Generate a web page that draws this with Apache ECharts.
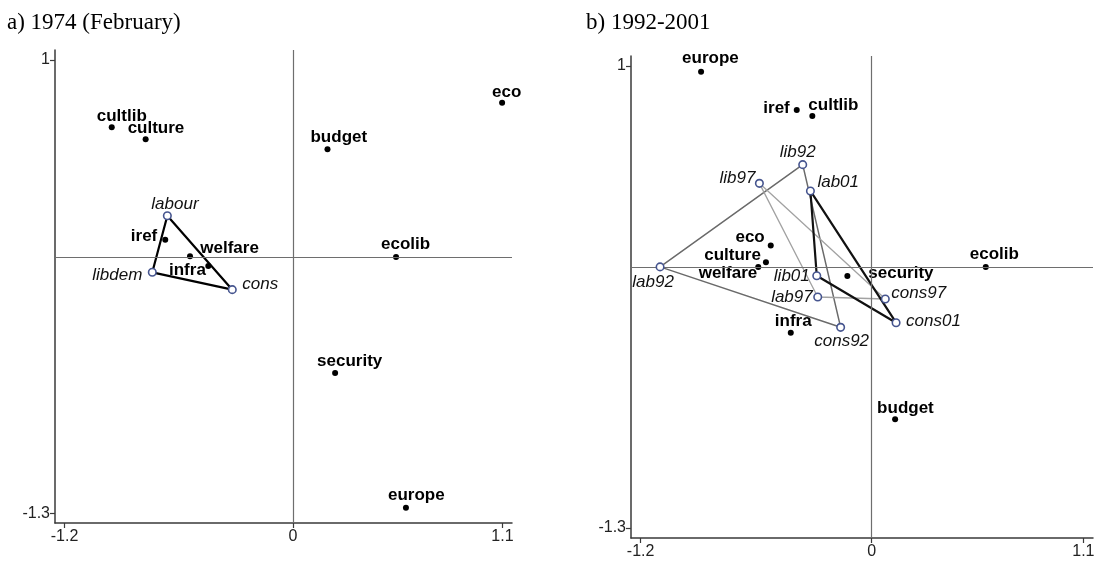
<!DOCTYPE html>
<html>
<head>
<meta charset="utf-8">
<script src="https://cdn.jsdelivr.net/npm/echarts@6/dist/echarts.min.js"></script>
<style>
  html, body { margin: 0; padding: 0; background: #fff; }
  #chart { width: 1099px; height: 561px; }
</style>
</head>
<body>
<div id="chart"></div>
<script>
// panel a) 1974 (February)
const issuesA = ['cultlib', 'culture', 'budget', 'eco', 'ecolib', 'security', 'europe', 'iref', 'welfare', 'infra']
const issueXA = [-0.952, -0.774, 0.181, 1.098, 0.541, 0.221, 0.593, -0.671, -0.445, -0.541]
const issueYA = [0.658, 0.597, 0.547, 0.782, 0.0, -0.589, -1.272, 0.087, -0.046, 0.003]
const partiesA = ['labour', 'libdem', 'cons']
const partyXA = [-0.660, -0.739, -0.319]
const partyYA = [0.209, -0.078, -0.166]

// panel b) 1992-2001
const issuesB = ['europe', 'iref', 'cultlib', 'eco', 'culture', 'welfare', 'security', 'infra', 'ecolib', 'budget']
const issueXB = [-0.886, -0.389, -0.308, -0.524, -0.549, -0.589, -0.126, -0.420, 0.593, 0.122]
const issueYB = [0.972, 0.781, 0.751, 0.106, 0.023, 0.0, -0.045, -0.328, 0.0, -0.759]
const partiesB = ['lab92', 'lib92', 'cons92', 'lab97', 'lib97', 'cons97', 'lab01', 'lib01', 'cons01']
const partyXB = [-1.099, -0.358, -0.161, -0.280, -0.583, 0.071, -0.318, -0.285, 0.127]
const partyYB = [0.0, 0.509, -0.301, -0.150, 0.416, -0.160, 0.378, -0.044, -0.278]

// axis ticks
const xTicks = [-1.2, 0, 1.1]
const yTicks = [1, -1.3]

// label placement: [dx, dy, align]
const labelPos = {
  a: {
    cultlib: [-15, -11, 'left'], culture: [-18, -11, 'left'], budget: [-17, -12, 'left'],
    eco: [-10, -11, 'left'], ecolib: [-15, -13, 'left'], security: [-18, -12, 'left'],
    europe: [-18, -12, 'left'], iref: [-8, -3, 'right'], welfare: [-8, -18, 'left'],
    infra: [-21, 14, 'left'], labour: [-16, -11, 'left'], libdem: [-10, 3, 'right'],
    cons: [10, -5, 'left']
  },
  b: {
    europe: [-19, -13, 'left'], iref: [-7, -2, 'right'], cultlib: [-4, -11, 'left'],
    eco: [-6, -8, 'right'], culture: [-5, -7, 'right'], welfare: [-1, 6, 'right'],
    security: [21, -3, 'left'], infra: [-16, -11, 'left'], ecolib: [-16, -13, 'left'],
    budget: [-18, -11, 'left'], lab92: [-7, 15, 'center'], lib92: [-23, -12, 'left'],
    cons92: [1, 14, 'center'], lab97: [-5, 0, 'right'], lib97: [-4, -5, 'right'],
    cons97: [6, -6, 'left'], lab01: [7, -9, 'left'], lib01: [-7, 1, 'right'],
    cons01: [10, -1, 'left']
  }
}

const sans = '"Liberation Sans", Arial, Helvetica, sans-serif'

function points(names, xs, ys, pos) {
  return names.map((n, i) => {
    const p = pos[n] || [6, 0, 'left']
    return {
      name: n,
      value: [xs[i], ys[i]],
      label: { offset: [p[0], p[1]], align: p[2] }
    }
  })
}

function triangle(names, xs, ys, keys) {
  const pts = keys.map(k => {
    const i = names.indexOf(k)
    return [xs[i], ys[i]]
  })
  pts.push(pts[0])
  return pts
}

function makeAxes(idx) {
  const axisLine = { show: true, onZero: false, lineStyle: { color: '#3a3a3a', width: 1.5 } }
  const axisTick = { show: true, length: 5, lineStyle: { color: '#3a3a3a', width: 1.2 } }
  const axisLabel = { color: '#222', fontSize: 16, fontFamily: sans }
  return {
    x: {
      type: 'value', gridIndex: idx, min: -1.25, max: 1.15,
      splitLine: { show: false }, axisLine: axisLine,
      axisTick: Object.assign({ customValues: xTicks }, axisTick),
      axisLabel: Object.assign({ customValues: xTicks, margin: 6 }, axisLabel)
    },
    y: {
      type: 'value', gridIndex: idx, min: -1.35, max: 1.05,
      splitLine: { show: false }, axisLine: axisLine,
      axisTick: Object.assign({ customValues: yTicks }, axisTick),
      axisLabel: Object.assign({ customValues: yTicks, margin: 5 }, axisLabel)
    }
  }
}

function issueSeries(idx, data) {
  return {
    type: 'scatter', xAxisIndex: idx, yAxisIndex: idx, z: 3,
    symbol: 'circle', symbolSize: 6,
    itemStyle: { color: '#000', opacity: 1 },
    label: {
      show: true, position: 'inside', formatter: '{b}', verticalAlign: 'middle',
      color: '#000', fontSize: 17, fontWeight: 'bold', fontFamily: sans
    },
    markLine: {
      silent: true, symbol: 'none', label: { show: false },
      lineStyle: { color: '#6e6e6e', width: 1.2, type: 'solid', opacity: 1 },
      data: [{ xAxis: 0 }, { yAxis: 0 }]
    },
    data: data
  }
}

function partySeries(idx, data) {
  return {
    type: 'scatter', xAxisIndex: idx, yAxisIndex: idx, z: 5,
    symbol: 'circle', symbolSize: 7.5,
    itemStyle: { color: '#fff', borderColor: '#46558f', borderWidth: 1.6, opacity: 1 },
    label: {
      show: true, position: 'inside', formatter: '{b}', verticalAlign: 'middle',
      color: '#111', fontSize: 17, fontStyle: 'italic', fontFamily: sans
    },
    data: data
  }
}

function lineSeries(idx, data, color, width) {
  return {
    type: 'line', xAxisIndex: idx, yAxisIndex: idx, z: 4,
    symbol: 'none', silent: true,
    lineStyle: { color: color, width: width },
    data: data
  }
}

const axA = makeAxes(0)
const axB = makeAxes(1)
const titleStyle = { fontFamily: '"Liberation Serif", "Times New Roman", serif', fontSize: 23, fontWeight: 'normal', color: '#000' }

const chart = echarts.init(document.getElementById('chart'))
chart.setOption({
  backgroundColor: '#fff',
  animation: false,
  title: [
    { text: 'a) 1974 (February)', left: 7, top: 11, padding: 0, textStyle: titleStyle },
    { text: 'b) 1992-2001', left: 586, top: 11, padding: 0, textStyle: titleStyle }
  ],
  grid: [
    { left: 55, top: 50, width: 457, height: 473 },
    { left: 631, top: 56, width: 462, height: 482 }
  ],
  xAxis: [axA.x, axB.x],
  yAxis: [axA.y, axB.y],
  series: [
    issueSeries(0, points(issuesA, issueXA, issueYA, labelPos.a)),
    lineSeries(0, triangle(partiesA, partyXA, partyYA, ['labour', 'libdem', 'cons']), '#000', 2.2),
    partySeries(0, points(partiesA, partyXA, partyYA, labelPos.a)),

    issueSeries(1, points(issuesB, issueXB, issueYB, labelPos.b)),
    lineSeries(1, triangle(partiesB, partyXB, partyYB, ['lab92', 'lib92', 'cons92']), '#6a6a6a', 1.5),
    lineSeries(1, triangle(partiesB, partyXB, partyYB, ['lab97', 'lib97', 'cons97']), '#a2a2a2', 1.3),
    lineSeries(1, triangle(partiesB, partyXB, partyYB, ['lab01', 'lib01', 'cons01']), '#111', 2.2),
    partySeries(1, points(partiesB, partyXB, partyYB, labelPos.b))
  ]
})
</script>
</body>
</html>
